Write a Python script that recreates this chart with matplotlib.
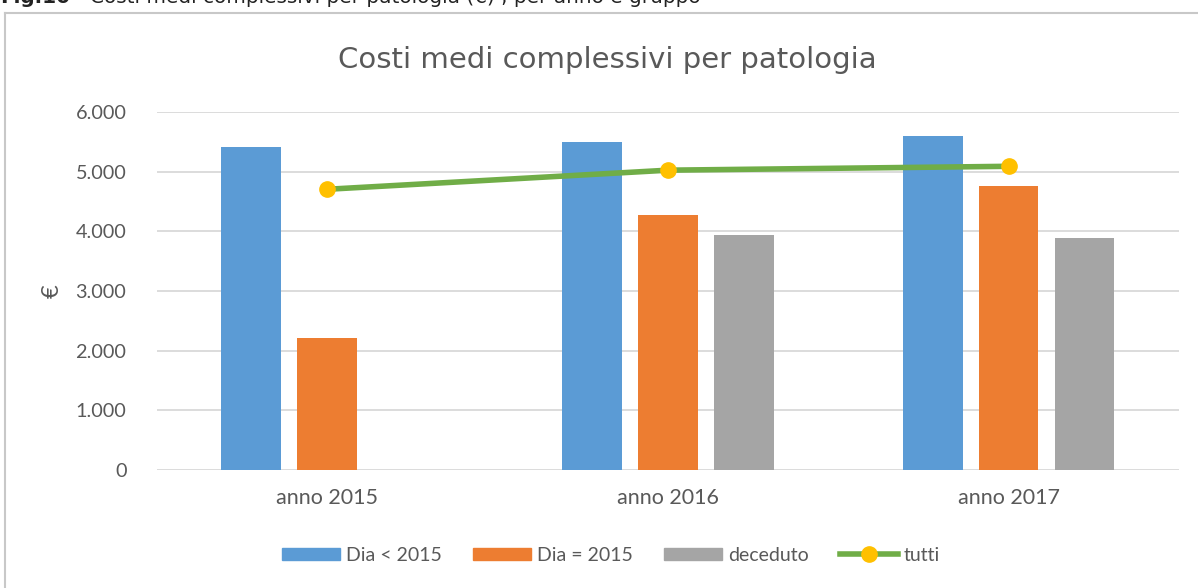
import matplotlib.pyplot as plt
import numpy as np
from matplotlib.lines import Line2D

# data
categories = ["anno 2015", "anno 2016", "anno 2017"]
dia_prima = [5410, 5495, 5595]
dia_2015 = [2210, 4270, 4755]
deceduto = [0, 3935, 3885]
tutti = [4705, 5025, 5090]
yticks = [0, 1000, 2000, 3000, 4000, 5000, 6000]
ytick_labels = ["0", "1.000", "2.000", "3.000", "4.000", "5.000", "6.000"]

blue = "#5B9BD5"
orange = "#ED7D31"
gray = "#A5A5A5"
green = "#70AD47"
yellow = "#FFC000"
txt = "#595959"

plt.rcParams['font.family'] = ['Lato', 'DejaVu Sans']

fig = plt.figure(figsize=(11.98, 5.88), dpi=100)
ax = fig.add_axes([0.131, 0.2007, 0.853, 0.6088])

x = np.arange(len(categories))
w = 0.176
step = 0.223
ax.bar(x - step, dia_prima, w, color=blue, label="Dia < 2015", zorder=2)
ax.bar(x, dia_2015, w, color=orange, label="Dia = 2015", zorder=2)
ax.bar(x + step, deceduto, w, color=gray, label="deceduto", zorder=2)
ax.plot(x, tutti, color=green, lw=4, marker="o", ms=11, mfc=yellow, mec=yellow,
        label="tutti", zorder=3)

ax.set_xlim(-0.5, 2.5)
ax.set_ylim(0, 6000)
ax.set_yticks(yticks)
ax.set_yticklabels(ytick_labels)
ax.set_xticks(x)
ax.set_xticklabels(categories)
ax.tick_params(axis='both', length=0, labelcolor=txt)
ax.tick_params(axis='y', pad=22, labelsize=14.3)
ax.tick_params(axis='x', pad=13, labelsize=15.5)
ax.grid(axis='y', color="#D9D9D9", lw=1.3, zorder=0)
for s in ax.spines.values():
    s.set_visible(False)
ax.set_ylabel("€", fontsize=17, color=txt, labelpad=9)

fig.text(607 / 1198, 1 - 60 / 588, "Costi medi complessivi per patologia", fontsize=21,
         color=txt, ha="center", va="center", family="DejaVu Sans")

handles = [
    plt.Rectangle((0, 0), 1, 1, color=blue),
    plt.Rectangle((0, 0), 1, 1, color=orange),
    plt.Rectangle((0, 0), 1, 1, color=gray),
    Line2D([0], [0], color=green, lw=4, marker="o", ms=11, mfc=yellow, mec=yellow),
]
fig.legend(handles, ["Dia < 2015", "Dia = 2015", "deceduto", "tutti"],
           loc="center", bbox_to_anchor=(0.51, 0.056), ncol=4, frameon=False,
           fontsize=14, labelcolor=txt, handlelength=3.0, handleheight=0.6,
           handletextpad=0.3, columnspacing=1.6)

# outer chart frame (left and top edge visible)
fig.add_artist(Line2D([5 / 1198, 5 / 1198], [0, 1 - 13 / 588], color="#C8C8C8", lw=1.5))
fig.add_artist(Line2D([5 / 1198, 1], [1 - 13 / 588, 1 - 13 / 588], color="#C8C8C8", lw=1.5))

# caption cut off at the top of the image
fig.text(0.0, 1 - 3 / 588, "Fig.10", fontsize=14.4, va="baseline", ha="left",
         family="DejaVu Sans", fontweight="bold", color="#222222")
fig.text(90 / 1198, 1 - 3 / 588, "Costi medi complessivi per patologia (€) , per anno e gruppo",
         fontsize=14.4, va="baseline", ha="left", family="DejaVu Sans", color="#222222")

fig.savefig("out.png", dpi=100)
